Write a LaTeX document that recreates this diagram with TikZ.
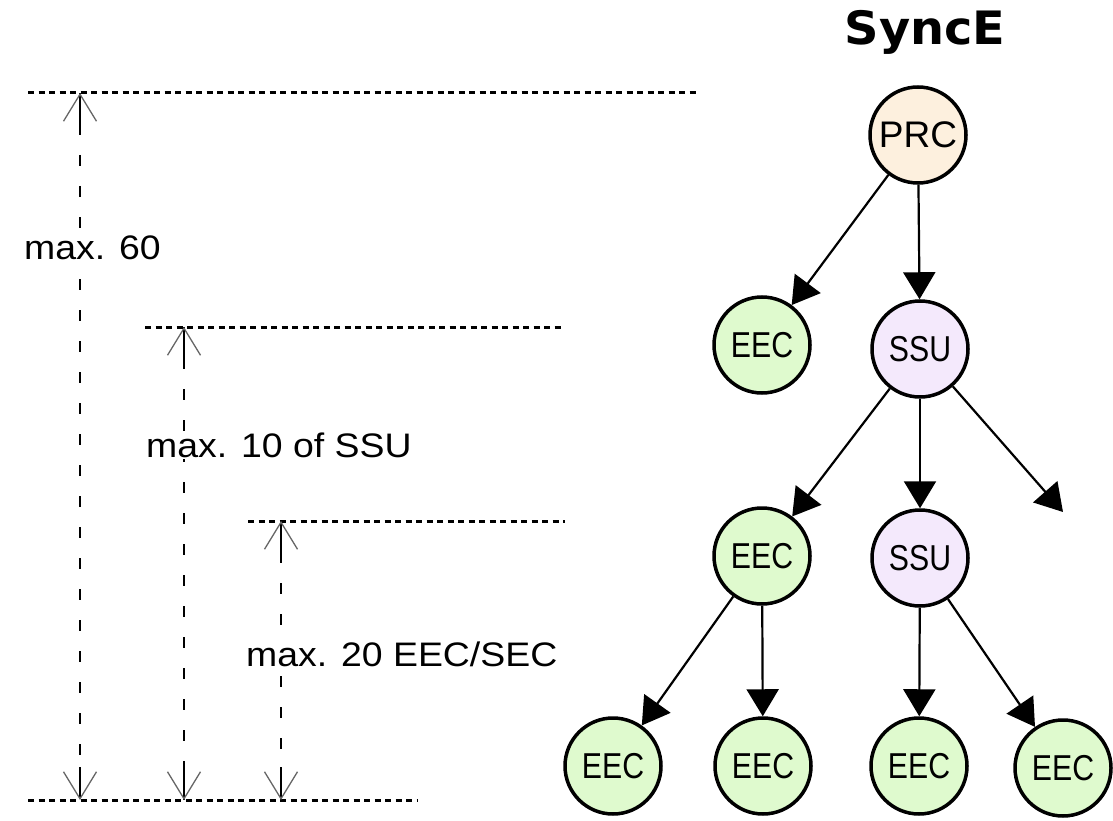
\documentclass[tikz,border=0pt]{standalone}
\usepackage{fontspec}
\setmainfont{Liberation Sans}
\newfontfamily\headfont{DejaVu Sans}[FakeStretch=1.04]
\newfontfamily\notefont{Liberation Sans}[FakeStretch=1.1]
\newfontfamily\unitfont{Liberation Sans}[FakeStretch=0.84]
\usetikzlibrary{arrows.meta}
\definecolor{peach}{RGB}{253,240,222}
\definecolor{lime}{RGB}{223,250,206}
\definecolor{lilac}{RGB}{244,233,252}

\begin{document}
\begin{tikzpicture}[x=1pt,y=-1pt]
  \tikzset{unit/.style={draw,circle,line width=3.5pt,minimum size=96pt,inner sep=0pt,font=\unitfont\fontsize{36}{36}\selectfont}}
  \tikzset{link/.style={draw,line width=2.2pt,-{Triangle[length=27pt,width=32pt]}}}
  \tikzset{level/.style={draw,line width=3pt,dash pattern=on 6pt off 4.5pt}}
  \tikzset{span/.style={draw,line width=1.6pt,dash pattern=on 11pt off 20pt}}
  \tikzset{barb/.style={draw,line width=1.6pt,-{Straight Barb[length=27pt,width=33pt,line width=1.3pt,color=black!60]}}}
  \tikzset{note/.style={fill=white,inner sep=2pt,anchor=west,font=\notefont\fontsize{34}{34}\selectfont}}

  \useasboundingbox (0,0) rectangle (1113,821);

  % level lines
  \draw[level] (28,93) -- (700,93);
  \draw[level] (145,327) -- (562,327);
  \draw[level] (248,521) -- (565,521);
  \draw[level] (28,800) -- (417,800);

  % span arrows, solid next to the tips
  \foreach \x/\y in {80/93,184/327,281/521} {
    \coordinate (top\x) at (\x,\y);
    \coordinate (bot\x) at (\x,800);
    \draw[span] (top\x) -- (bot\x);
    \draw[barb] (\x,\y+33) -- (top\x);
    \draw[barb] (\x,767) -- (bot\x);
  }

  \node[note] (max60) at (22,248) {max. 60};
  \node[note] (max10) at (144,445) {max. 10 of SSU};
  \node[note] (max20) at (244,654) {max. 20 EEC/SEC};

  % tree
  \node (title) at (925,32) {\headfont\bfseries\fontsize{46}{46}\selectfont SyncE};

  \node[unit,fill=peach,font=\fontsize{37}{37}\selectfont] (prc) at (918,135) {PRC};
  \node[unit,fill=lime]  (eec1) at (762,345) {EEC};
  \node[unit,fill=lilac] (ssu1) at (920,349) {SSU};
  \node[unit,fill=lime]  (eec2) at (762,556) {EEC};
  \node[unit,fill=lilac] (ssu2) at (920,558) {SSU};
  \node[unit,fill=lime]  (eec3) at (613,766) {EEC};
  \node[unit,fill=lime]  (eec4) at (763,766) {EEC};
  \node[unit,fill=lime]  (eec5) at (919,766) {EEC};
  \node[unit,fill=lime]  (eec6) at (1063,768) {EEC};
  \coordinate (more) at (1063,512);

  \draw[link] (prc) -- (eec1);
  \draw[link] (prc) -- (ssu1);

  \draw[link] (ssu1) -- (eec2);
  \draw[link] (ssu1) -- (ssu2);
  \draw[link] (ssu1) -- (more);

  \draw[link] (eec2) -- (eec3);
  \draw[link] (eec2) -- (eec4);
  \draw[link] (ssu2) -- (eec5);
  \draw[link] (ssu2) -- (eec6);

\end{tikzpicture}
\end{document}
